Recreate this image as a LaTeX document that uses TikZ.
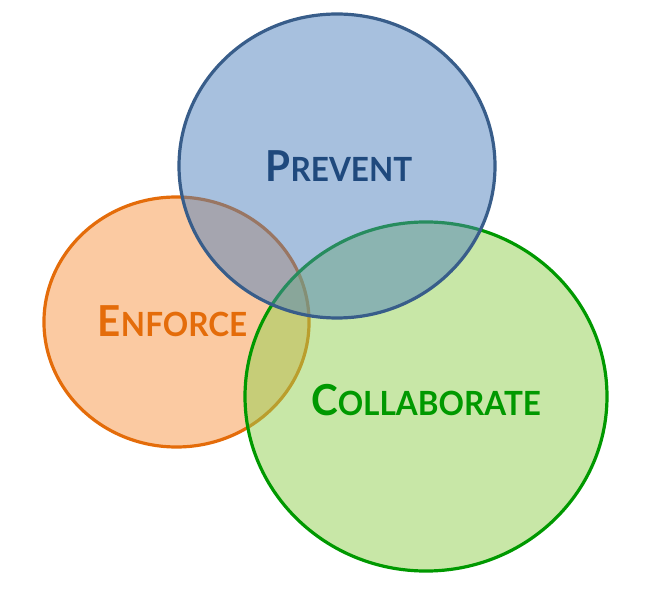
\documentclass[tikz,border=0pt]{standalone}
\usepackage{fontspec}
\newfontfamily\vennfont{Lato}
\definecolor{bluefill}{HTML}{4F81BD}
\definecolor{blueline}{HTML}{385D8A}
\definecolor{bluetext}{HTML}{1F497D}
\definecolor{orangefill}{HTML}{F79646}
\definecolor{orangeline}{HTML}{E46C0A}
\definecolor{greenfill}{HTML}{92D050}
\definecolor{greenline}{HTML}{009900}
\newcommand{\vsc}[2]{\scalebox{0.945}[1]{{\fontsize{32}{36}\selectfont #1}{\fontsize{25}{30}\selectfont #2}}}
\begin{document}
\begin{tikzpicture}[x=0.75pt,y=-0.75pt,
  set/.style={line width=2.4pt,fill opacity=0.5},
  label/.style={anchor=base,font=\vennfont\bfseries,inner sep=0pt}]
\useasboundingbox (0,0) rectangle (657,591);
\draw[set,draw=orangeline,fill=orangefill] (176.5,322) ellipse [x radius=99.4pt,y radius=93.75pt];
\draw[set,draw=greenline,fill=greenfill] (426,396.5) ellipse [x radius=135.75pt,y radius=130.9pt];
\draw[set,draw=blueline,fill=bluefill] (337,166) ellipse [x radius=118.5pt,y radius=114pt];
\node[label,text=bluetext] (prevent) at (339,182) {\vsc{P}{REVENT}};
\node[label,text=orangeline] (enforce) at (172.5,337) {\vsc{E}{NFORCE}};
\node[label,text=greenline] (collab) at (426,416) {\vsc{C}{OLLABORATE}};
\end{tikzpicture}
\end{document}
